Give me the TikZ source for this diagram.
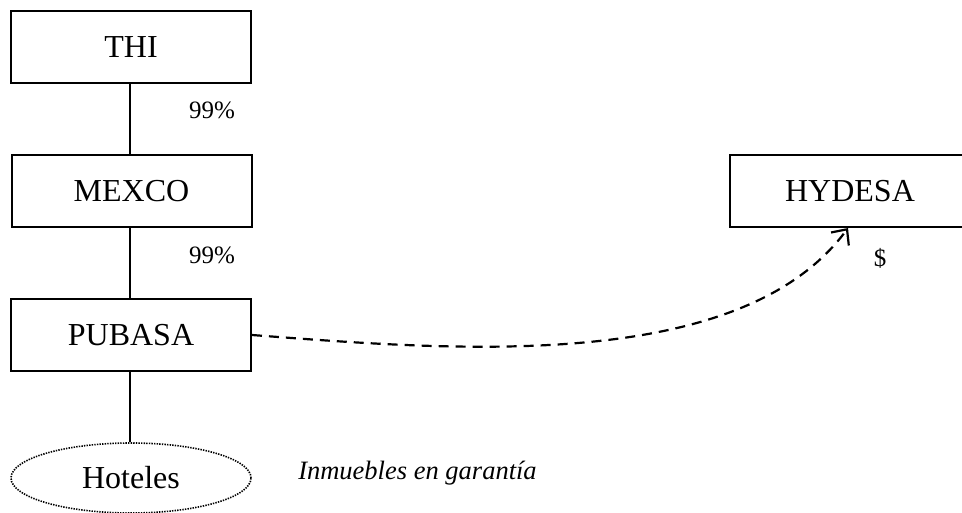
\documentclass[tikz,border=0pt]{standalone}
\usepackage{fontspec}
\setmainfont{Liberation Serif}
\usetikzlibrary{arrows.meta,shapes.geometric}
\begin{document}
\begin{tikzpicture}[x=1pt,y=-1pt,
  box/.style={draw,line width=2pt,minimum width=240pt,minimum height=72pt,inner sep=0pt,font=\fontsize{32}{36}\selectfont},
  pct/.style={font=\fontsize{25}{28}\selectfont},
  link/.style={line width=1.8pt}]
\useasboundingbox (0,0) rectangle (962,512);
\begin{scope}
\clip (0,0) rectangle (962,512);
\node[box] (thi) at (131,47) {THI};
\node[box] (mex) at (131.5,191) {MEXCO};
\node[box] (pub) at (131,335) {PUBASA};
\node[box] (hyd) at (850,191) {HYDESA};
\node[draw,ellipse,line width=1.6pt,dash pattern=on 1.4pt off 1.2pt,minimum width=240pt,minimum height=70pt,inner sep=0pt,font=\fontsize{32}{36}\selectfont] (hot) at (131,478) {Hoteles};
\draw[link] (thi.south -| 130,0) -- (mex.north -| 130,0);
\draw[link] (mex.south -| 130,0) -- (pub.north -| 130,0);
\draw[link] (pub.south -| 130,0) -- (hot.north -| 130,0);
\node[pct] (p1) at (212,110) {99\%};
\node[pct] (p2) at (212,255) {99\%};
\node[pct] (dol) at (880,258) {\$};
\node[font=\fontsize{26.5}{30}\selectfont\itshape] (inm) at (417.5,473) {Inmuebles en garantía};
\coordinate (tip) at ([xshift=-2pt]hyd.south);
\draw[line width=2.2pt,dash pattern=on 10pt off 7pt,-{Straight Barb[length=12pt,width=22pt,line width=2.2pt]}]
  (pub.east) .. controls (450,350) and (740,375) .. (tip);
\end{scope}
\end{tikzpicture}
\end{document}
